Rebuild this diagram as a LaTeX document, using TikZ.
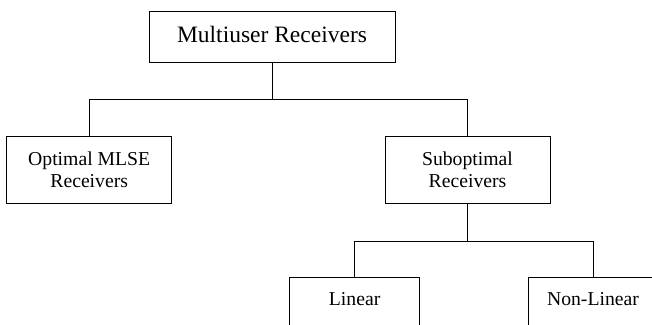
\documentclass[tikz,border=0pt]{standalone}
\usepackage{fontspec}
\setmainfont{Liberation Serif}
\begin{document}
\begin{tikzpicture}[x=1pt,y=-1pt,line width=0.9pt,
  box/.style={draw,inner sep=2pt,align=center,font=\fontsize{19.7}{22.5}\selectfont,
    minimum width=165pt,minimum height=66.6pt},
  leaf/.style={box,anchor=north,minimum width=129.5pt,text depth=25pt}]
  \clip (0,0) rectangle (652,324);
  \node[box,minimum width=246pt,minimum height=51.7pt,text depth=6pt,
    font=\fontsize{23.5}{28}\selectfont] (mur) at (272,36.85) {Multiuser Receivers};
  \node[box] (opt) at (89.2,170) {Optimal MLSE\\Receivers};
  \node[box] (sub) at (467.5,170) {Suboptimal\\Receivers};
  \node[leaf] (lin) at (354.6,277.3) {Linear};
  \node[leaf] (nlin) at (593,277.3) {Non-Linear};
  % tree branches
  \coordinate (j1) at (272,99);
  \coordinate (j2) at (467.5,241.7);
  \draw (mur.south) -- (j1) -| (opt.north);
  \draw (j1) -| (sub.north);
  \draw (sub.south) -- (j2) -| (lin.north);
  \draw (j2) -| (nlin.north);
\end{tikzpicture}
\end{document}
